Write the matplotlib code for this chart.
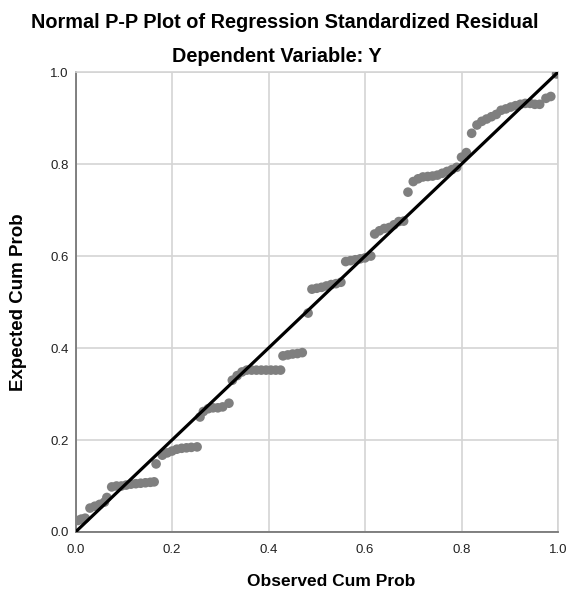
import matplotlib
matplotlib.use("Agg")
import matplotlib.pyplot as plt

plt.rcParams['font.family'] = ['Liberation Sans', 'DejaVu Sans']

# observed cumulative probability (x) vs expected cumulative probability (y)
observed = [
    0.005, 0.012, 0.02,
    0.03, 0.04, 0.05, 0.06, 0.065,
    0.075, 0.085, 0.095, 0.105, 0.115, 0.125, 0.135, 0.145, 0.155, 0.163,
    0.167,
    0.18, 0.19, 0.2, 0.21, 0.22, 0.23, 0.24, 0.252,
    0.258,
    0.265, 0.275, 0.285, 0.295, 0.305, 0.318,
    0.325, 0.335, 0.345, 0.355, 0.365, 0.375, 0.385, 0.395, 0.405, 0.415, 0.425,
    0.43, 0.44, 0.45, 0.46, 0.47,
    0.482,
    0.49, 0.5, 0.51, 0.52, 0.53, 0.54, 0.55,
    0.56, 0.57, 0.58, 0.59, 0.6, 0.612,
    0.62, 0.63, 0.64, 0.65, 0.66, 0.67, 0.68,
    0.689,
    0.7, 0.71, 0.72, 0.73, 0.74, 0.75, 0.76, 0.77, 0.78, 0.79,
    0.8, 0.81,
    0.821,
    0.832, 0.842, 0.852, 0.862, 0.872,
    0.882, 0.892, 0.902, 0.912, 0.922, 0.932, 0.942, 0.952, 0.962,
    0.975, 0.985,
    0.997,
]
expected = [
    0.025, 0.028, 0.03,
    0.052, 0.056, 0.06, 0.065, 0.075,
    0.098, 0.1, 0.1, 0.102, 0.104, 0.105, 0.106, 0.107, 0.108, 0.109,
    0.148,
    0.167, 0.172, 0.176, 0.18, 0.182, 0.183, 0.184, 0.185,
    0.25,
    0.262, 0.268, 0.27, 0.27, 0.272, 0.28,
    0.33, 0.34, 0.348, 0.352, 0.352, 0.352, 0.352, 0.352, 0.352, 0.352, 0.352,
    0.383, 0.385, 0.387, 0.388, 0.39,
    0.476,
    0.528, 0.53, 0.532, 0.535, 0.538, 0.54, 0.543,
    0.588, 0.59, 0.592, 0.594, 0.596, 0.6,
    0.648, 0.655, 0.66, 0.662, 0.668, 0.675, 0.676,
    0.739,
    0.762, 0.768, 0.772, 0.773, 0.774, 0.776, 0.78, 0.784, 0.788, 0.793,
    0.815, 0.825,
    0.867,
    0.885, 0.893, 0.898, 0.903, 0.908,
    0.917, 0.92, 0.924, 0.927, 0.93, 0.932, 0.932, 0.93, 0.93,
    0.943, 0.947,
    0.996,
]
ticks = [0.0, 0.2, 0.4, 0.6, 0.8, 1.0]
tick_labels = ["0.0", "0.2", "0.4", "0.6", "0.8", "1.0"]

fig = plt.figure(figsize=(5.69, 5.98), dpi=100)
ax = fig.add_axes([0.1327, 0.1104, 0.848, 0.769])

ax.scatter(observed, expected, s=48, color="#7f7f7f", edgecolors="none", zorder=3)
ax.plot([0, 1], [0, 1], color="black", linewidth=2.3, zorder=4)

ax.set_xlim(0, 1)
ax.set_ylim(0, 1)
ax.set_xticks(ticks)
ax.set_yticks(ticks)
ax.set_xticklabels(tick_labels)
ax.set_yticklabels(tick_labels)
ax.tick_params(length=0, labelsize=9.5, colors="#222222")
ax.tick_params(axis="x", pad=9)
ax.tick_params(axis="y", pad=5)
ax.grid(True, color="#d4d4d4", linewidth=1.2, zorder=0)
ax.set_axisbelow(True)

for side in ["top", "right"]:
    ax.spines[side].set_color("#d4d4d4")
    ax.spines[side].set_linewidth(1.2)
for side in ["left", "bottom"]:
    ax.spines[side].set_color("#777777")
    ax.spines[side].set_linewidth(1.3)

fig.text(0.5, 0.963, "Normal P-P Plot of Regression Standardized Residual",
         ha="center", va="center", fontsize=14.3, fontweight="bold")
fig.text(0.487, 0.905, "Dependent Variable: Y",
         ha="center", va="center", fontsize=14.3, fontweight="bold")
fig.text(0.582, 0.027, "Observed Cum Prob",
         ha="center", va="center", fontsize=12.5, fontweight="bold")
fig.text(0.032, 0.495, "Expected Cum Prob", rotation=90,
         ha="center", va="center", fontsize=13.5, fontweight="bold")

fig.savefig("out.png", dpi=100)
